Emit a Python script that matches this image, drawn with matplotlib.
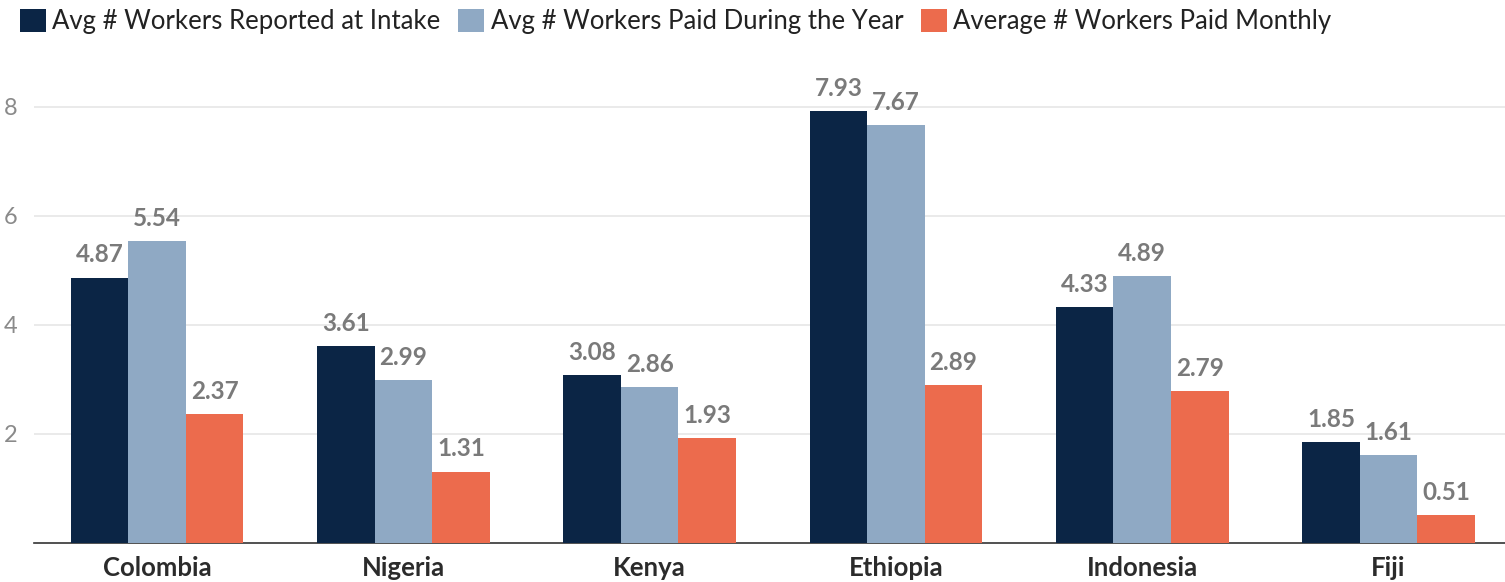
import numpy as np
import matplotlib.pyplot as plt

plt.rcParams['font.family'] = ['Lato', 'DejaVu Sans']

countries = ['Colombia', 'Nigeria', 'Kenya', 'Ethiopia', 'Indonesia', 'Fiji']
reported_intake = [4.87, 3.61, 3.08, 7.93, 4.33, 1.85]
paid_year = [5.54, 2.99, 2.86, 7.67, 4.89, 1.61]
paid_monthly = [2.37, 1.31, 1.93, 2.89, 2.79, 0.51]

series = [
    ('Avg # Workers Reported at Intake', reported_intake, '#0b2545'),
    ('Avg # Workers Paid During the Year', paid_year, '#8fa9c4'),
    ('Average # Workers Paid Monthly', paid_monthly, '#ec6b4d'),
]

fig = plt.figure(figsize=(15.05, 5.82), dpi=100)
ax = fig.add_axes([34 / 1505, 1 - 543 / 582, 1 - 34 / 1505, (543 - 60) / 582])

x = np.arange(len(countries))
width = 0.2336
for i, (name, vals, color) in enumerate(series):
    pos = x + (i - 1) * width
    ax.bar(pos, vals, width, color=color, label=name, zorder=3)
    for px, v in zip(pos, vals):
        ax.annotate(f'{v:.2f}', (px, v), xytext=(0, 8), textcoords='offset points',
                    ha='center', va='bottom', fontsize=17.5, fontweight='bold',
                    color='#7a7a7a', zorder=4)

ax.set_xlim(-0.5, 5.473)
ax.set_ylim(0, 8.86)
ax.set_yticks([2, 4, 6, 8])
ax.set_xticks(x)
ax.set_xticklabels(countries, fontsize=18.5, fontweight='bold', color='#2b2b2b')
ax.tick_params(axis='y', length=0, labelsize=17, labelcolor='#8a8a8a', pad=12)
ax.tick_params(axis='x', length=0, pad=9)
ax.grid(axis='y', color='#e6e6e6', linewidth=1.2, zorder=0)
for s in ['top', 'right', 'left']:
    ax.spines[s].set_visible(False)
ax.spines['bottom'].set_color('#333333')
ax.spines['bottom'].set_linewidth(1.2)

fig.legend(loc='upper left', bbox_to_anchor=(-0.002, 1.025), ncol=3, frameon=False,
           fontsize=18.5, handlelength=1.0, handleheight=1.0, handletextpad=0.25,
           columnspacing=0.7, labelcolor='#222222')

fig.savefig('out.png', dpi=100)
